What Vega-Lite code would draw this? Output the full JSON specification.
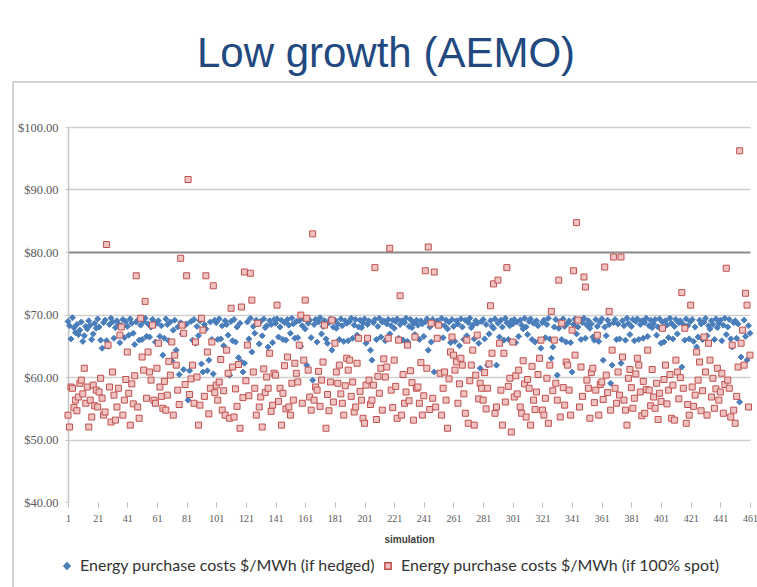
{
  "$schema": "https://vega.github.io/schema/vega-lite/v6.json",
  "width": 682,
  "height": 375,
  "autosize": {"type": "none"},
  "padding": {"left": 68, "top": 127, "right": 7, "bottom": 85},
  "background": "#ffffff",
  "config": {"view": {"stroke": null}},
  "title": {
    "text": "Low growth (AEMO)",
    "font": "Liberation Sans",
    "fontSize": 42,
    "fontWeight": "normal",
    "color": "#21497f",
    "anchor": "middle",
    "frame": "group",
    "dx": -23,
    "offset": 5
  },
  "datasets": {
    "runs": [
      {"s":1,"h":68.9,"p":53.9},{"s":2,"h":68.2,"p":52.0},{"s":3,"h":66.1,"p":58.4},{"s":4,"h":69.5,"p":58.2},{"s":5,"h":67.9,"p":55.1},{"s":6,"h":67.1,"p":56.3},{"s":7,"h":68.4,"p":54.6},{"s":8,"h":66.8,"p":56.8},{"s":9,"h":67.5,"p":59.0},{"s":10,"h":68.8,"p":59.5},{"s":11,"h":65.7,"p":57.3},{"s":12,"h":66.6,"p":61.4},{"s":13,"h":68.1,"p":55.8},{"s":14,"h":67.7,"p":58.4},{"s":15,"h":69.0,"p":52.0},{"s":16,"h":68.3,"p":56.3},{"s":17,"h":66.0,"p":53.6},{"s":18,"h":66.9,"p":58.7},{"s":19,"h":68.6,"p":55.4},{"s":20,"h":67.8,"p":57.9},
      {"s":21,"h":69.3,"p":55.2},{"s":22,"h":68.0,"p":57.6},{"s":23,"h":65.9,"p":59.8},{"s":24,"h":64.6,"p":56.6},{"s":25,"h":68.7,"p":53.9},{"s":26,"h":69.1,"p":54.4},{"s":27,"h":65.8,"p":81.2},{"s":28,"h":64.9,"p":65.1},{"s":29,"h":68.4,"p":58.4},{"s":30,"h":69.4,"p":52.8},{"s":31,"h":68.8,"p":60.8},{"s":32,"h":66.2,"p":57.1},{"s":33,"h":67.9,"p":53.1},{"s":34,"h":69.0,"p":55.2},{"s":35,"h":68.5,"p":58.2},{"s":36,"h":65.5,"p":66.7},{"s":37,"h":68.2,"p":68.0},{"s":38,"h":69.2,"p":53.9},{"s":39,"h":66.3,"p":56.3},{"s":40,"h":68.9,"p":59.6},
      {"s":41,"h":68.1,"p":64.0},{"s":42,"h":66.7,"p":57.4},{"s":43,"h":69.3,"p":52.3},{"s":44,"h":68.6,"p":58.9},{"s":45,"h":67.0,"p":55.7},{"s":46,"h":65.2,"p":60.2},{"s":47,"h":68.8,"p":76.2},{"s":48,"h":69.1,"p":55.2},{"s":49,"h":65.9,"p":53.4},{"s":50,"h":68.3,"p":69.4},{"s":51,"h":66.0,"p":63.2},{"s":52,"h":68.9,"p":61.1},{"s":53,"h":69.4,"p":72.1},{"s":54,"h":66.5,"p":56.6},{"s":55,"h":68.5,"p":64.0},{"s":56,"h":66.4,"p":60.8},{"s":57,"h":68.0,"p":59.5},{"s":58,"h":69.2,"p":68.3},{"s":59,"h":68.7,"p":56.3},{"s":60,"h":65.6,"p":55.8},
      {"s":61,"h":68.6,"p":61.4},{"s":62,"h":69.0,"p":65.4},{"s":63,"h":66.5,"p":58.4},{"s":64,"h":68.2,"p":56.9},{"s":65,"h":63.5,"p":55.0},{"s":66,"h":66.2,"p":59.3},{"s":67,"h":69.3,"p":54.7},{"s":68,"h":68.4,"p":57.1},{"s":69,"h":65.8,"p":62.5},{"s":70,"h":68.8,"p":60.3},{"s":71,"h":62.6,"p":65.6},{"s":72,"h":67.5,"p":53.9},{"s":73,"h":69.1,"p":63.5},{"s":74,"h":64.3,"p":61.9},{"s":75,"h":68.0,"p":57.9},{"s":76,"h":60.4,"p":55.6},{"s":77,"h":68.7,"p":79.0},{"s":78,"h":66.9,"p":68.3},{"s":79,"h":61.2,"p":67.0},{"s":80,"h":68.3,"p":58.8},
      {"s":81,"h":68.5,"p":76.2},{"s":82,"h":56.3,"p":91.6},{"s":83,"h":61.0,"p":57.2},{"s":84,"h":68.9,"p":59.7},{"s":85,"h":65.9,"p":61.9},{"s":86,"h":69.2,"p":55.8},{"s":87,"h":65.4,"p":65.6},{"s":88,"h":68.1,"p":60.0},{"s":89,"h":66.6,"p":52.3},{"s":90,"h":69.0,"p":55.5},{"s":91,"h":62.1,"p":69.4},{"s":92,"h":60.8,"p":67.5},{"s":93,"h":68.4,"p":56.9},{"s":94,"h":67.7,"p":76.2},{"s":95,"h":61.0,"p":64.0},{"s":96,"h":62.7,"p":54.1},{"s":97,"h":68.8,"p":58.2},{"s":98,"h":66.0,"p":65.6},{"s":99,"h":60.5,"p":74.6},{"s":100,"h":69.1,"p":57.5},
      {"s":101,"h":68.7,"p":58.7},{"s":102,"h":66.0,"p":56.3},{"s":103,"h":69.3,"p":59.2},{"s":104,"h":66.1,"p":62.8},{"s":105,"h":68.2,"p":54.7},{"s":106,"h":65.0,"p":57.8},{"s":107,"h":69.0,"p":53.9},{"s":108,"h":68.4,"p":64.3},{"s":109,"h":66.7,"p":60.6},{"s":110,"h":60.3,"p":53.4},{"s":111,"h":68.9,"p":71.0},{"s":112,"h":65.8,"p":61.6},{"s":113,"h":69.2,"p":53.6},{"s":114,"h":65.6,"p":58.1},{"s":115,"h":68.0,"p":55.3},{"s":116,"h":63.1,"p":62.0},{"s":117,"h":68.6,"p":51.8},{"s":118,"h":62.4,"p":71.2},{"s":119,"h":60.8,"p":56.7},{"s":120,"h":62.2,"p":76.8},
      {"s":121,"h":59.5,"p":59.4},{"s":122,"h":68.8,"p":65.1},{"s":123,"h":66.1,"p":57.0},{"s":124,"h":69.4,"p":76.6},{"s":125,"h":64.0,"p":72.3},{"s":126,"h":68.1,"p":60.8},{"s":127,"h":67.0,"p":58.2},{"s":128,"h":69.1,"p":53.9},{"s":129,"h":68.5,"p":68.6},{"s":130,"h":65.3,"p":55.2},{"s":131,"h":68.9,"p":56.8},{"s":132,"h":66.6,"p":52.0},{"s":133,"h":69.3,"p":61.3},{"s":134,"h":67.9,"p":57.5},{"s":135,"h":68.2,"p":60.0},{"s":136,"h":64.8,"p":58.2},{"s":137,"h":69.0,"p":63.8},{"s":138,"h":68.4,"p":54.5},{"s":139,"h":65.5,"p":55.5},{"s":140,"h":69.2,"p":60.6},
      {"s":141,"h":68.6,"p":60.3},{"s":142,"h":69.3,"p":71.5},{"s":143,"h":66.4,"p":56.1},{"s":144,"h":68.0,"p":58.2},{"s":145,"h":69.1,"p":52.3},{"s":146,"h":66.0,"p":57.4},{"s":147,"h":68.7,"p":61.8},{"s":148,"h":65.9,"p":54.9},{"s":149,"h":69.2,"p":63.2},{"s":150,"h":68.3,"p":55.2},{"s":151,"h":67.0,"p":53.9},{"s":152,"h":69.4,"p":59.0},{"s":153,"h":68.5,"p":56.3},{"s":154,"h":66.2,"p":62.2},{"s":155,"h":68.9,"p":60.6},{"s":156,"h":66.3,"p":59.2},{"s":157,"h":69.0,"p":65.1},{"s":158,"h":64.9,"p":69.9},{"s":159,"h":68.2,"p":55.8},{"s":160,"h":69.3,"p":62.7},
      {"s":161,"h":67.7,"p":72.3},{"s":162,"h":61.9,"p":69.4},{"s":163,"h":68.6,"p":61.1},{"s":164,"h":69.1,"p":56.8},{"s":165,"h":66.3,"p":54.7},{"s":166,"h":59.5,"p":82.9},{"s":167,"h":68.4,"p":56.3},{"s":168,"h":69.2,"p":58.4},{"s":169,"h":65.6,"p":57.9},{"s":170,"h":68.8,"p":60.9},{"s":171,"h":69.5,"p":55.3},{"s":172,"h":66.9,"p":59.5},{"s":173,"h":68.1,"p":62.4},{"s":174,"h":69.0,"p":68.3},{"s":175,"h":66.1,"p":51.8},{"s":176,"h":65.4,"p":57.2},{"s":177,"h":68.7,"p":54.6},{"s":178,"h":69.3,"p":59.2},{"s":179,"h":64.3,"p":69.1},{"s":180,"h":68.0,"p":56.0},
      {"s":181,"h":69.1,"p":65.4},{"s":182,"h":67.8,"p":60.8},{"s":183,"h":68.5,"p":59.0},{"s":184,"h":66.0,"p":61.9},{"s":185,"h":69.3,"p":57.3},{"s":186,"h":68.2,"p":55.8},{"s":187,"h":65.7,"p":53.9},{"s":188,"h":69.0,"p":58.6},{"s":189,"h":68.6,"p":63.0},{"s":190,"h":65.8,"p":61.1},{"s":191,"h":68.9,"p":62.7},{"s":192,"h":69.4,"p":56.9},{"s":193,"h":66.2,"p":59.2},{"s":194,"h":68.3,"p":54.4},{"s":195,"h":69.2,"p":55.2},{"s":196,"h":66.7,"p":62.2},{"s":197,"h":68.0,"p":66.2},{"s":198,"h":69.1,"p":57.7},{"s":199,"h":67.9,"p":56.3},{"s":200,"h":68.6,"p":53.4},
      {"s":201,"h":69.3,"p":52.6},{"s":202,"h":65.4,"p":58.7},{"s":203,"h":68.4,"p":66.2},{"s":204,"h":69.0,"p":59.5},{"s":205,"h":64.3,"p":55.6},{"s":206,"h":62.7,"p":56.3},{"s":207,"h":68.7,"p":58.7},{"s":208,"h":69.2,"p":77.5},{"s":209,"h":66.0,"p":53.2},{"s":210,"h":68.1,"p":60.1},{"s":211,"h":69.4,"p":57.4},{"s":212,"h":66.4,"p":61.4},{"s":213,"h":68.8,"p":54.7},{"s":214,"h":69.0,"p":62.9},{"s":215,"h":65.8,"p":60.0},{"s":216,"h":68.5,"p":61.6},{"s":217,"h":69.2,"p":66.2},{"s":218,"h":66.9,"p":80.6},{"s":219,"h":68.2,"p":57.9},{"s":220,"h":69.1,"p":55.1},
      {"s":221,"h":67.8,"p":62.7},{"s":222,"h":68.9,"p":58.5},{"s":223,"h":69.3,"p":53.4},{"s":224,"h":66.2,"p":65.9},{"s":225,"h":68.4,"p":73.0},{"s":226,"h":69.0,"p":53.9},{"s":227,"h":65.9,"p":60.4},{"s":228,"h":68.7,"p":55.8},{"s":229,"h":69.4,"p":57.6},{"s":230,"h":65.7,"p":65.1},{"s":231,"h":68.1,"p":56.2},{"s":232,"h":69.2,"p":61.0},{"s":233,"h":67.9,"p":59.1},{"s":234,"h":68.6,"p":53.1},{"s":235,"h":66.8,"p":66.4},{"s":236,"h":69.1,"p":58.2},{"s":237,"h":68.3,"p":58.4},{"s":238,"h":66.0,"p":55.8},{"s":239,"h":69.0,"p":62.3},{"s":240,"h":68.5,"p":53.9},
      {"s":241,"h":66.5,"p":57.0},{"s":242,"h":68.8,"p":77.0},{"s":243,"h":69.3,"p":61.4},{"s":244,"h":64.3,"p":80.8},{"s":245,"h":68.0,"p":54.8},{"s":246,"h":65.6,"p":68.6},{"s":247,"h":69.2,"p":56.6},{"s":248,"h":60.8,"p":76.8},{"s":249,"h":68.6,"p":55.2},{"s":250,"h":69.0,"p":66.2},{"s":251,"h":66.2,"p":68.3},{"s":252,"h":68.4,"p":60.6},{"s":253,"h":69.4,"p":53.9},{"s":254,"h":66.3,"p":58.2},{"s":255,"h":68.2,"p":60.8},{"s":256,"h":69.1,"p":56.3},{"s":257,"h":67.7,"p":51.8},{"s":258,"h":68.8,"p":59.7},{"s":259,"h":65.5,"p":64.0},{"s":260,"h":69.2,"p":66.4},
      {"s":261,"h":68.1,"p":63.5},{"s":262,"h":65.7,"p":61.1},{"s":263,"h":69.0,"p":62.4},{"s":264,"h":68.5,"p":55.8},{"s":265,"h":65.0,"p":58.9},{"s":266,"h":69.3,"p":63.0},{"s":267,"h":68.0,"p":61.9},{"s":268,"h":66.0,"p":57.3},{"s":269,"h":69.1,"p":54.2},{"s":270,"h":66.6,"p":65.9},{"s":271,"h":68.7,"p":52.6},{"s":272,"h":69.4,"p":59.4},{"s":273,"h":67.9,"p":61.9},{"s":274,"h":68.3,"p":64.3},{"s":275,"h":66.1,"p":52.3},{"s":276,"h":69.0,"p":60.3},{"s":277,"h":68.6,"p":66.7},{"s":278,"h":65.4,"p":56.5},{"s":279,"h":61.4,"p":59.0},{"s":280,"h":68.9,"p":58.2},
      {"s":281,"h":69.2,"p":56.3},{"s":282,"h":66.1,"p":60.7},{"s":283,"h":68.4,"p":54.9},{"s":284,"h":61.9,"p":58.2},{"s":285,"h":66.9,"p":62.1},{"s":286,"h":69.0,"p":71.4},{"s":287,"h":68.1,"p":63.8},{"s":288,"h":67.8,"p":74.9},{"s":289,"h":69.3,"p":54.2},{"s":290,"h":61.9,"p":55.2},{"s":291,"h":68.6,"p":75.5},{"s":292,"h":66.4,"p":65.4},{"s":293,"h":69.1,"p":57.9},{"s":294,"h":68.0,"p":52.3},{"s":295,"h":65.9,"p":63.8},{"s":296,"h":69.4,"p":56.0},{"s":297,"h":68.7,"p":77.5},{"s":298,"h":66.0,"p":58.5},{"s":299,"h":68.2,"p":59.8},{"s":300,"h":69.0,"p":51.2},
      {"s":301,"h":68.5,"p":65.6},{"s":302,"h":69.2,"p":56.8},{"s":303,"h":65.5,"p":60.2},{"s":304,"h":68.8,"p":57.3},{"s":305,"h":66.5,"p":61.1},{"s":306,"h":69.1,"p":55.2},{"s":307,"h":68.3,"p":54.2},{"s":308,"h":67.7,"p":62.6},{"s":309,"h":69.4,"p":58.9},{"s":310,"h":68.0,"p":53.6},{"s":311,"h":66.8,"p":59.6},{"s":312,"h":68.9,"p":58.2},{"s":313,"h":69.3,"p":52.3},{"s":314,"h":66.0,"p":61.7},{"s":315,"h":68.6,"p":56.3},{"s":316,"h":65.6,"p":54.8},{"s":317,"h":69.0,"p":57.6},{"s":318,"h":68.2,"p":60.4},{"s":319,"h":65.8,"p":63.0},{"s":320,"h":64.6,"p":65.9},
      {"s":321,"h":68.7,"p":54.7},{"s":322,"h":69.1,"p":53.9},{"s":323,"h":66.3,"p":56.6},{"s":324,"h":68.4,"p":59.8},{"s":325,"h":69.4,"p":52.6},{"s":326,"h":66.1,"p":61.9},{"s":327,"h":63.0,"p":70.5},{"s":328,"h":64.8,"p":57.8},{"s":329,"h":68.0,"p":65.9},{"s":330,"h":69.2,"p":59.0},{"s":331,"h":60.3,"p":56.3},{"s":332,"h":67.8,"p":75.5},{"s":333,"h":68.9,"p":53.6},{"s":334,"h":66.0,"p":68.6},{"s":335,"h":69.3,"p":58.3},{"s":336,"h":68.1,"p":55.5},{"s":337,"h":65.6,"p":62.4},{"s":338,"h":68.6,"p":61.9},{"s":339,"h":69.0,"p":57.9},{"s":340,"h":65.5,"p":53.9},
      {"s":341,"h":60.8,"p":67.5},{"s":342,"h":68.4,"p":77.0},{"s":343,"h":69.3,"p":63.5},{"s":344,"h":66.9,"p":84.7},{"s":345,"h":68.0,"p":69.1},{"s":346,"h":69.1,"p":55.2},{"s":347,"h":66.0,"p":61.6},{"s":348,"h":68.7,"p":56.9},{"s":349,"h":69.4,"p":76.0},{"s":350,"h":66.2,"p":74.4},{"s":351,"h":68.3,"p":59.5},{"s":352,"h":69.0,"p":58.2},{"s":353,"h":67.8,"p":53.4},{"s":354,"h":68.5,"p":60.7},{"s":355,"h":66.4,"p":61.4},{"s":356,"h":65.9,"p":55.9},{"s":357,"h":69.2,"p":57.9},{"s":358,"h":68.1,"p":66.7},{"s":359,"h":65.7,"p":53.9},{"s":360,"h":68.8,"p":58.8},
      {"s":361,"h":69.3,"p":59.2},{"s":362,"h":62.7,"p":56.4},{"s":363,"h":68.0,"p":77.6},{"s":364,"h":66.6,"p":60.3},{"s":365,"h":69.1,"p":57.5},{"s":366,"h":68.4,"p":70.5},{"s":367,"h":59.0,"p":54.7},{"s":368,"h":61.9,"p":64.3},{"s":369,"h":68.7,"p":79.2},{"s":370,"h":69.2,"p":58.2},{"s":371,"h":66.0,"p":55.8},{"s":372,"h":68.5,"p":60.8},{"s":373,"h":66.1,"p":57.1},{"s":374,"h":62.2,"p":79.2},{"s":375,"h":69.0,"p":63.2},{"s":376,"h":68.2,"p":56.3},{"s":377,"h":65.9,"p":54.7},{"s":378,"h":69.4,"p":52.3},{"s":379,"h":68.6,"p":59.8},{"s":380,"h":66.8,"p":61.2},
      {"s":381,"h":68.1,"p":58.3},{"s":382,"h":69.2,"p":55.0},{"s":383,"h":65.8,"p":56.6},{"s":384,"h":68.9,"p":60.5},{"s":385,"h":69.3,"p":63.0},{"s":386,"h":66.0,"p":61.9},{"s":387,"h":68.4,"p":57.6},{"s":388,"h":69.0,"p":53.8},{"s":389,"h":66.2,"p":59.3},{"s":390,"h":68.7,"p":54.2},{"s":391,"h":69.4,"p":58.0},{"s":392,"h":66.5,"p":64.3},{"s":393,"h":68.2,"p":57.9},{"s":394,"h":69.1,"p":55.4},{"s":395,"h":67.9,"p":61.2},{"s":396,"h":68.5,"p":56.8},{"s":397,"h":69.2,"p":55.0},{"s":398,"h":66.7,"p":59.0},{"s":399,"h":68.0,"p":53.2},{"s":400,"h":69.3,"p":57.4},
      {"s":401,"h":65.4,"p":56.1},{"s":402,"h":68.8,"p":67.8},{"s":403,"h":65.6,"p":59.6},{"s":404,"h":69.0,"p":61.9},{"s":405,"h":68.3,"p":55.7},{"s":406,"h":66.3,"p":57.9},{"s":407,"h":69.4,"p":60.4},{"s":408,"h":68.6,"p":53.4},{"s":409,"h":66.1,"p":58.7},{"s":410,"h":68.1,"p":53.1},{"s":411,"h":69.2,"p":62.7},{"s":412,"h":66.9,"p":60.8},{"s":413,"h":68.7,"p":56.5},{"s":414,"h":69.0,"p":59.9},{"s":415,"h":61.6,"p":73.5},{"s":416,"h":68.4,"p":58.2},{"s":417,"h":65.9,"p":67.8},{"s":418,"h":69.3,"p":52.6},{"s":419,"h":68.2,"p":55.6},{"s":420,"h":66.1,"p":53.9},
      {"s":421,"h":68.9,"p":71.5},{"s":422,"h":69.2,"p":58.4},{"s":423,"h":65.7,"p":55.3},{"s":424,"h":68.0,"p":57.1},{"s":425,"h":64.8,"p":64.0},{"s":426,"h":66.4,"p":59.5},{"s":427,"h":69.1,"p":62.4},{"s":428,"h":68.5,"p":54.6},{"s":429,"h":66.0,"p":57.8},{"s":430,"h":68.8,"p":66.4},{"s":431,"h":69.4,"p":60.8},{"s":432,"h":66.6,"p":53.9},{"s":433,"h":68.2,"p":65.4},{"s":434,"h":67.7,"p":62.7},{"s":435,"h":69.0,"p":56.8},{"s":436,"h":68.4,"p":59.8},{"s":437,"h":66.0,"p":55.0},{"s":438,"h":69.3,"p":58.1},{"s":439,"h":67.9,"p":61.4},{"s":440,"h":68.6,"p":56.3},
      {"s":441,"h":69.1,"p":57.6},{"s":442,"h":65.8,"p":60.6},{"s":443,"h":68.3,"p":54.2},{"s":444,"h":69.4,"p":58.8},{"s":445,"h":66.8,"p":77.4},{"s":446,"h":68.0,"p":59.5},{"s":447,"h":69.2,"p":58.2},{"s":448,"h":66.1,"p":53.6},{"s":449,"h":64.8,"p":65.1},{"s":450,"h":68.7,"p":54.7},{"s":451,"h":69.0,"p":52.6},{"s":452,"h":66.2,"p":56.9},{"s":453,"h":68.5,"p":61.6},{"s":454,"h":56.0,"p":96.2},{"s":455,"h":63.2,"p":65.4},{"s":456,"h":67.4,"p":67.5},{"s":457,"h":69.1,"p":61.9},{"s":458,"h":66.5,"p":73.4},{"s":459,"h":62.7,"p":71.5},{"s":460,"h":68.2,"p":55.2},{"s":461,"h":67.0,"p":63.5}
    ]
  },
  "layer": [
    {
      "data": {"values": [{}]},
      "mark": {"type": "rule", "color": "#c4c4c4", "strokeWidth": 1.5},
      "encoding": {
        "x": {"datum": -36.1, "type": "quantitative"},
        "y": {"datum": 107.2, "type": "quantitative"},
        "y2": {"datum": 25.5}
      }
    },
    {
      "data": {"values": [{}]},
      "mark": {"type": "rule", "color": "#c4c4c4", "strokeWidth": 1.5},
      "encoding": {
        "x": {"datum": -36.1, "type": "quantitative"},
        "x2": {"datum": 472},
        "y": {"datum": 107.2, "type": "quantitative"}
      }
    },
    {
      "data": {"name": "runs"},
      "transform": [{"fold": ["h", "p"], "as": ["k", "v"]}],
      "mark": {"type": "point", "size": 36, "strokeWidth": 1, "opacity": 1},
      "encoding": {
        "x": {
          "field": "s",
          "type": "quantitative",
          "scale": {"domain": [1, 461], "nice": false, "zero": false},
          "axis": {
            "values": [1, 21, 41, 61, 81, 101, 121, 141, 161, 181, 201, 221, 241, 261, 281, 301, 321, 341, 361, 381, 401, 421, 441, 461],
            "tickCount": 24,
            "title": "simulation",
            "domain": false,
            "grid": false,
            "ticks": true,
            "tickSize": 5,
            "tickColor": "#bdbdbd",
            "labelFont": "Liberation Serif",
            "labelFontSize": 10,
            "labelColor": "#595959",
            "labelPadding": 6,
            "labelFlush": false,
            "labelOverlap": false,
            "titleFont": "Liberation Sans",
            "titleFontSize": 10,
            "titleFontWeight": "bold",
            "titleColor": "#404040",
            "titlePadding": 11
          }
        },
        "y": {
          "field": "v",
          "type": "quantitative",
          "scale": {"domain": [40, 100], "nice": false, "zero": false},
          "axis": {
            "values": [40, 50, 60, 70, 80, 90, 100],
            "format": "$.2f",
            "title": null,
            "domain": true,
            "domainColor": "#c4c4c4",
            "domainWidth": 1.5,
            "ticks": true,
            "tickSize": 3,
            "tickColor": "#c4c4c4",
            "grid": true,
            "gridColor": {"condition": {"test": "datum.value === 80", "value": "#8a8a8a"}, "value": "#cfcfcf"},
            "gridWidth": {"condition": {"test": "datum.value === 80", "value": 2}, "value": 1.5},
            "gridOpacity": {"condition": {"test": "datum.value === 40", "value": 0}, "value": 1},
            "labelFont": "Liberation Serif",
            "labelFontSize": 12.5,
            "labelColor": "#595959",
            "labelPadding": 7
          }
        },
        "shape": {
          "field": "k",
          "type": "nominal",
          "scale": {"domain": ["h", "p"], "range": ["diamond", "square"]},
          "legend": {
            "title": null,
            "orient": "none",
            "legendX": -9,
            "legendY": 431,
            "direction": "horizontal",
            "labelExpr": "datum.value === 'h' ? 'Energy purchase costs $/MWh (if hedged)' : 'Energy purchase costs $/MWh (if 100% spot)'",
            "labelFont": "Lato",
            "labelFontSize": 16,
            "labelColor": "#333333",
            "labelLimit": 0,
            "labelOffset": 5,
            "symbolSize": 40,
            "columnPadding": 4
          }
        },
        "fill": {
          "field": "k",
          "type": "nominal",
          "scale": {"domain": ["h", "p"], "range": ["#4a7ebb", "#efc3c2"]},
          "legend": {
            "title": null,
            "orient": "none",
            "legendX": -9,
            "legendY": 431,
            "direction": "horizontal",
            "labelExpr": "datum.value === 'h' ? 'Energy purchase costs $/MWh (if hedged)' : 'Energy purchase costs $/MWh (if 100% spot)'",
            "labelFont": "Lato",
            "labelFontSize": 16,
            "labelColor": "#333333",
            "labelLimit": 0,
            "labelOffset": 5,
            "symbolSize": 40,
            "columnPadding": 4
          }
        },
        "stroke": {
          "field": "k",
          "type": "nominal",
          "scale": {"domain": ["h", "p"], "range": ["#4a7ebb", "#c0504d"]},
          "legend": null
        },
        "order": {"field": "k"}
      }
    }
  ]
}
